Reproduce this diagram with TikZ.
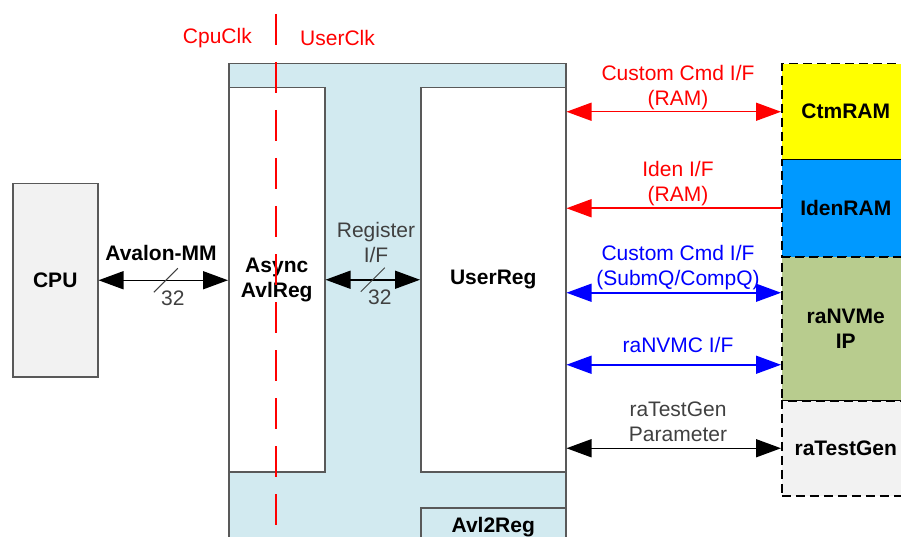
\documentclass[tikz,border=0pt]{standalone}
\usepackage{fontspec}
\setmainfont{Liberation Sans}
\usetikzlibrary{arrows.meta,calc}

\definecolor{regblue}{RGB}{210,234,240}
\definecolor{cpugray}{RGB}{242,242,242}
\definecolor{ramyellow}{RGB}{255,255,0}
\definecolor{ramblue}{RGB}{0,153,255}
\definecolor{ipgreen}{RGB}{184,204,142}
\definecolor{linegray}{RGB}{89,89,89}
\definecolor{textgray}{RGB}{64,64,64}

\begin{document}
\begin{tikzpicture}[x=1pt,y=-1pt,
		font=\fontsize{21}{25}\selectfont,
		boldtxt/.style={font=\fontsize{21}{25}\selectfont\bfseries},
		blk/.style={draw=linegray,line width=1.5pt,anchor=north west,inner sep=0pt,align=center,boldtxt},
		ext/.style={draw=black,line width=1.5pt,dash pattern=on 9pt off 5pt,anchor=north west,
			minimum width=128pt,inner sep=0pt,align=center,boldtxt},
		bus/.style={line width=1.5pt,{Triangle[length=25pt,width=18pt]}-{Triangle[length=25pt,width=18pt]}},
		lbl/.style={align=center,inner sep=0pt}]
		\useasboundingbox (0,0) rectangle (901,537);
		\clip (0,0) rectangle (901,537);
		
		% Avl2Reg and its sub blocks
		\node[blk,fill=regblue,minimum width=337pt,minimum height=480pt] (avl2reg) at (228,63) {};
		\node[blk,fill=white,minimum width=96pt,minimum height=384pt] (async) at (228,87) {Async\\AvlReg};
		\node[blk,fill=white,minimum width=145pt,minimum height=384pt] (userreg) at (420,87) {UserReg};
		\node[blk,fill=regblue,minimum width=145pt,minimum height=38pt] (avllbl) at (420,507) {Avl2Reg};
		\node[blk,fill=cpugray,minimum width=85pt,minimum height=193pt] (cpu) at (12,183) {CPU};
		
		% external blocks
		\foreach \nm/\txt/\col/\ytop/\hgt in {ctm/CtmRAM/ramyellow/63/96, iden/IdenRAM/ramblue/159/97, nvme/{raNVMe\\IP}/ipgreen/256/144, tgen/raTestGen/cpugray/400/95}
		{
			\node[ext,fill=\col,minimum height=\hgt pt] (\nm) at (781,\ytop) {\txt};
		}
		
		% buses on the left
		\draw[bus] (cpu.east) -- coordinate[pos=0.52] (avbus) (cpu.east -| async.west);
		\draw[bus] (async.east) -- coordinate (regbus) (async.east -| userreg.west);
		\foreach \b in {avbus,regbus}
		{
			\draw[textgray,line width=1pt] ($(\b)+(-12,12)$) -- ($(\b)+(12,-12)$);
			\node[lbl,textgray] at ($(\b)+(7,18)$) {32};
		}
		\node[lbl,boldtxt] (avlon) at (161,253) {Avalon-MM};
		\node[lbl,textgray] (reglbl) at (376,242) {Register\\I/F};
		
		% interfaces on the right
		\coordinate (sq) at ([yshift=36pt]nvme.west);
		\coordinate (nvmc) at ([yshift=-36pt]nvme.west);
		\draw[bus,red] (ctm.west -| userreg.east) -- (ctm.west);
		\draw[red,line width=1.5pt,-{Triangle[length=25pt,width=18pt]}] (iden.west) -- (iden.west -| userreg.east);
		\draw[bus,blue] (sq -| userreg.east) -- (sq);
		\draw[bus,blue] (nvmc -| userreg.east) -- (nvmc);
		\draw[bus] (tgen.west -| userreg.east) -- (tgen.west);
		\node[lbl,red] (ctmif) at (678,88) {Custom Cmd I/F\\(RAM)};
		\node[lbl,red] (idenif) at (678,184) {Iden I/F\\(RAM)};
		\node[lbl,blue] (sqif) at (678,268) {Custom Cmd I/F\\(SubmQ/CompQ)};
		\node[lbl,blue] (nvmcif) at (678,345) {raNVMC I/F};
		\node[lbl,textgray] (tgenif) at (678,422) {raTestGen\\Parameter};
		
		% clock domain border
		\coordinate (clktop) at (276,14);
		\coordinate (clkbot) at (276,540);
		\draw[red,line width=1.5pt,dash pattern=on 31pt off 17pt] (clktop) -- (clkbot);
		\node[lbl,red,anchor=east] (cpuclk) at ($(clktop)+(-24,24)$) {CpuClk};
		\node[lbl,red,anchor=west] (userclk) at ($(clktop)+(24,24)$) {UserClk};
		
	\end{tikzpicture}
\end{document}
